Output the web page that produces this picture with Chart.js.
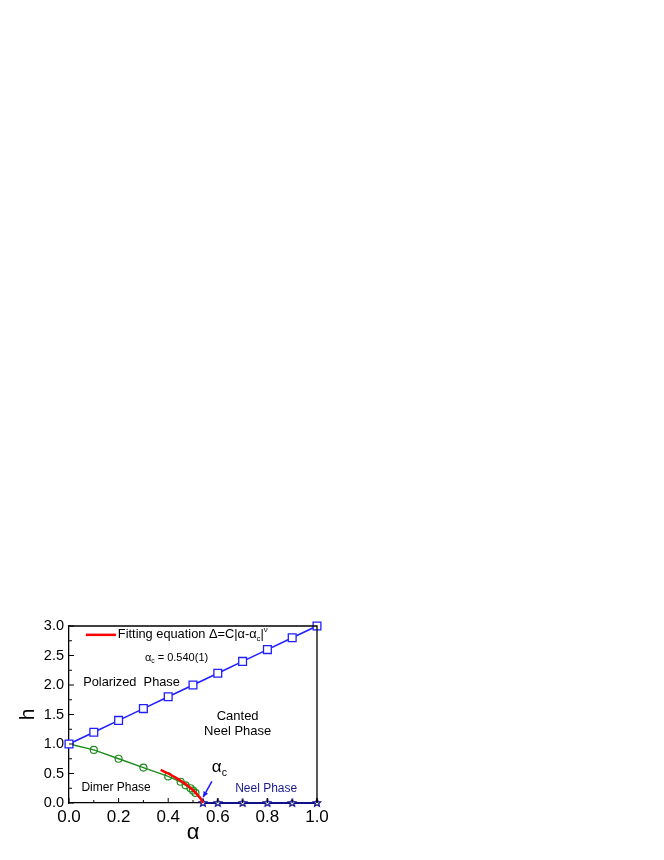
<!DOCTYPE html>
<html>
<head>
<meta charset="utf-8">
<script src="https://cdn.jsdelivr.net/npm/chart.js@4.4.0/dist/chart.umd.min.js"></script>
<style>
  html, body { margin: 0; padding: 0; background: #fff; }
  canvas { display: block; }
</style>
</head>
<body>
<canvas id="phaseChart" width="664" height="860"></canvas>
<script>
// axis ticks
const alphaTicks = [0.0, 0.2, 0.4, 0.6, 0.8, 1.0];
const alphaMinor = [0.1, 0.3, 0.5, 0.7, 0.9];
const hTicks = [0.0, 0.5, 1.0, 1.5, 2.0, 2.5, 3.0];
const hMinor = [0.25, 0.75, 1.25, 1.75, 2.25, 2.75];

// polarized boundary (blue squares)
const polarizedAlpha = [0.0, 0.1, 0.2, 0.3, 0.4, 0.5, 0.6, 0.7, 0.8, 0.9, 1.0];
const polarizedH = [1.0, 1.2, 1.4, 1.6, 1.8, 2.0, 2.2, 2.4, 2.6, 2.8, 3.0];

// dimer gap (green circles)
const dimerAlpha = [0.0, 0.1, 0.2, 0.3, 0.4, 0.45, 0.47, 0.49, 0.50, 0.51];
const dimerH = [1.0, 0.90, 0.75, 0.60, 0.45, 0.36, 0.30, 0.25, 0.21, 0.17];

// neel line (navy stars)
const neelAlpha = [0.54, 0.6, 0.7, 0.8, 0.9, 1.0];
const neelH = [0, 0, 0, 0, 0, 0];

// fit curve (red)
const fitAlpha = [0.37, 0.40, 0.43, 0.46, 0.48, 0.50, 0.52, 0.53, 0.54];
const fitH = [0.56, 0.50, 0.43, 0.35, 0.29, 0.22, 0.13, 0.08, 0.0];

const toPoints = (xs, ys) => xs.map((x, i) => ({x: x, y: ys[i]}));

const FONT = '"Liberation Sans", Arial, sans-serif';

const makeStar = (size, color) => {
    const c = document.createElement('canvas');
    c.width = size; c.height = size;
    const g = c.getContext('2d');
    const r = size / 2 - 1, cx = size / 2, cy = size / 2;
    g.beginPath();
    for (let i = 0; i < 10; i++) {
        const rad = i % 2 === 0 ? r : r * 0.45;
        const ang = -Math.PI / 2 + i * Math.PI / 5;
        const px = cx + rad * Math.cos(ang), py = cy + rad * Math.sin(ang);
        if (i === 0) g.moveTo(px, py); else g.lineTo(px, py);
    }
    g.closePath();
    g.fillStyle = '#fff';
    g.fill();
    g.lineWidth = 1.3;
    g.strokeStyle = color;
    g.stroke();
    return c;
};

const framePlugin = {
    id: 'frame',
    afterDraw(chart) {
        const {ctx, chartArea: a, scales: {x, y}} = chart;
        ctx.save();
        ctx.strokeStyle = '#000';
        ctx.lineWidth = 1.3;
        ctx.beginPath();
        ctx.moveTo(a.left, a.top);
        ctx.lineTo(a.right, a.top);
        ctx.lineTo(a.right, a.bottom);
        ctx.stroke();
        ctx.lineWidth = 1;
        ctx.beginPath();
        alphaTicks.forEach(v => { const p = x.getPixelForValue(v); ctx.moveTo(p, a.bottom); ctx.lineTo(p, a.bottom - 5); });
        alphaMinor.forEach(v => { const p = x.getPixelForValue(v); ctx.moveTo(p, a.bottom); ctx.lineTo(p, a.bottom - 3); });
        hTicks.forEach(v => { const p = y.getPixelForValue(v); ctx.moveTo(a.left, p); ctx.lineTo(a.left + 5, p); });
        hMinor.forEach(v => { const p = y.getPixelForValue(v); ctx.moveTo(a.left, p); ctx.lineTo(a.left + 3, p); });
        ctx.stroke();
        ctx.restore();
    }
};

// draws a string with subscript / superscript runs: [[text, mode], ...]
const drawRuns = (ctx, runs, x0, y0, size) => {
    let cx = x0;
    runs.forEach(([t, mode]) => {
        const s = mode ? size * 0.62 : size;
        const dy = mode === 'sub' ? size * 0.3 : (mode === 'sup' ? -size * 0.4 : 0);
        ctx.font = `${s}px ${FONT}`;
        ctx.fillText(t, cx, y0 + dy);
        cx += ctx.measureText(t).width;
    });
};

const notesPlugin = {
    id: 'notes',
    afterDatasetsDraw(chart) {
        const {ctx, scales: {x, y}} = chart;
        ctx.save();
        ctx.textBaseline = 'middle';
        ctx.fillStyle = '#000';

        // legend entry
        ctx.strokeStyle = '#ff0000';
        ctx.lineWidth = 2.5;
        ctx.beginPath();
        ctx.moveTo(x.getPixelForValue(0.068), y.getPixelForValue(2.85));
        ctx.lineTo(x.getPixelForValue(0.190), y.getPixelForValue(2.85));
        ctx.stroke();
        ctx.textAlign = 'left';
        drawRuns(ctx, [['Fitting equation \u0394=C|\u03b1-\u03b1', ''], ['c', 'sub'], ['|', ''], ['\u03bd', 'sup']],
            x.getPixelForValue(0.197), y.getPixelForValue(2.85), 12.8);
        drawRuns(ctx, [['\u03b1', ''], ['c', 'sub'], [' = 0.540(1)', '']],
            x.getPixelForValue(0.306), y.getPixelForValue(2.46), 11);

        ctx.font = `12.8px ${FONT}`;
        ctx.fillText('Polarized  Phase', x.getPixelForValue(0.057), y.getPixelForValue(2.04));
        ctx.font = `12px ${FONT}`;
        ctx.fillText('Dimer Phase', x.getPixelForValue(0.05), y.getPixelForValue(0.264));
        ctx.font = `13px ${FONT}`;
        ctx.textAlign = 'center';
        ctx.fillText('Canted', x.getPixelForValue(0.68), y.getPixelForValue(1.465));
        ctx.fillText('Neel Phase', x.getPixelForValue(0.68), y.getPixelForValue(1.21));
        ctx.textAlign = 'left';
        ctx.font = `12px ${FONT}`;
        ctx.fillStyle = '#1a1a8f';
        ctx.fillText('Neel Phase', x.getPixelForValue(0.67), y.getPixelForValue(0.24));

        ctx.fillStyle = '#000';
        drawRuns(ctx, [['\u03b1', ''], ['c', 'sub']], x.getPixelForValue(0.576), y.getPixelForValue(0.6), 17);

        // arrow to alpha_c
        const x1 = x.getPixelForValue(0.576), y1 = y.getPixelForValue(0.365);
        const x2 = x.getPixelForValue(0.541), y2 = y.getPixelForValue(0.1);
        ctx.strokeStyle = '#1a1aff';
        ctx.fillStyle = '#1a1aff';
        ctx.lineWidth = 1.5;
        ctx.beginPath();
        ctx.moveTo(x1, y1);
        ctx.lineTo(x2, y2);
        ctx.stroke();
        const ang = Math.atan2(y2 - y1, x2 - x1);
        ctx.beginPath();
        ctx.moveTo(x2, y2);
        ctx.lineTo(x2 - 6 * Math.cos(ang - 0.45), y2 - 6 * Math.sin(ang - 0.45));
        ctx.lineTo(x2 - 6 * Math.cos(ang + 0.45), y2 - 6 * Math.sin(ang + 0.45));
        ctx.closePath();
        ctx.fill();
        ctx.restore();
    }
};

const ctxP = document.getElementById('phaseChart').getContext('2d');
const phaseChart = new Chart(ctxP, {
    type: 'scatter',
    data: {
        datasets: [{
            label: 'fit',
            data: toPoints(fitAlpha, fitH),
            showLine: true,
            borderColor: '#ff0000',
            borderWidth: 2.5,
            pointRadius: 0,
            tension: 0.3,
            clip: false,
            order: 0
        }, {
            label: 'polarized',
            data: toPoints(polarizedAlpha, polarizedH),
            showLine: true,
            borderColor: '#1f1fff',
            borderWidth: 1.6,
            pointStyle: 'rect',
            pointRadius: 5.5,
            pointBorderWidth: 1.3,
            pointBackgroundColor: '#fff',
            pointBorderColor: '#1f1fff',
            clip: false,
            order: 1
        }, {
            label: 'neel',
            data: toPoints(neelAlpha, neelH),
            showLine: true,
            borderColor: '#10108c',
            borderWidth: 2,
            pointStyle: makeStar(10, '#10108c'),
            clip: false,
            order: 2
        }, {
            label: 'dimer',
            data: toPoints(dimerAlpha, dimerH),
            showLine: true,
            borderColor: '#1e8c1e',
            borderWidth: 1.4,
            pointStyle: 'circle',
            pointRadius: 3.5,
            pointBorderWidth: 1.2,
            pointBackgroundColor: 'rgba(255,255,255,0)',
            pointBorderColor: '#1e8c1e',
            clip: false,
            order: 3
        }]
    },
    options: {
        responsive: false,
        devicePixelRatio: 1,
        animation: false,
        layout: {padding: {left: 0, right: 347, top: 626, bottom: 0}},
        plugins: {legend: {display: false}, tooltip: {enabled: false}},
        scales: {
            x: {
                type: 'linear', min: 0, max: 1,
                afterFit: (scale) => { scale.height = 57; },
                afterBuildTicks: (scale) => { scale.ticks = alphaTicks.map(v => ({value: v})); },
                grid: {display: false, drawTicks: false},
                border: {display: true, color: '#000', width: 1.3},
                ticks: {color: '#000', padding: 4, font: {family: FONT, size: 17},
                    callback: (v) => Number(v).toFixed(1), maxRotation: 0},
                title: {display: true, text: '\u03b1', color: '#000', font: {family: FONT, size: 22},
                    padding: {top: 0, bottom: 14}}
            },
            y: {
                type: 'linear', min: 0, max: 3,
                afterFit: (scale) => { scale.width = 69; },
                afterBuildTicks: (scale) => { scale.ticks = hTicks.map(v => ({value: v})); },
                grid: {display: false, drawTicks: false},
                border: {display: true, color: '#000', width: 1.3},
                ticks: {color: '#000', padding: 5, font: {family: FONT, size: 14.5},
                    callback: (v) => Number(v).toFixed(1)},
                title: {display: true, text: 'h', color: '#000', font: {family: FONT, size: 21},
                    padding: {top: 16, bottom: 0}}
            }
        }
    },
    plugins: [framePlugin, notesPlugin]
});
</script>
</body>
</html>
